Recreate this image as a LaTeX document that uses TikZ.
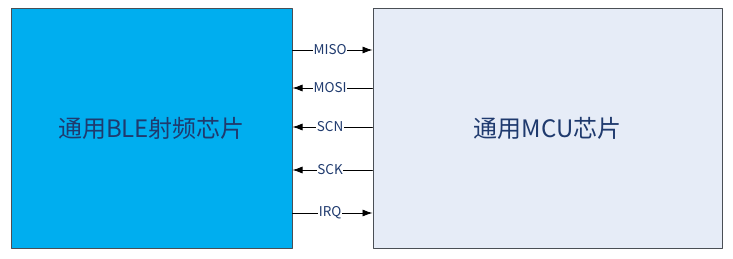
\documentclass[tikz,border=0pt]{standalone}
\usepackage{fontspec}
\setmainfont{Noto Sans CJK SC}
\usepackage{xcolor}
\usetikzlibrary{arrows.meta, calc}
\definecolor{blefill}{HTML}{00AEEF}
\definecolor{mcufill}{HTML}{E6ECF7}
\definecolor{chipedge}{HTML}{4A4F55}
\definecolor{chiptext}{HTML}{1F3A6E}

\tikzset{
	chip/.style={draw=chipedge, line width=1pt, minimum height=240pt, text=chiptext, font=\fontsize{24}{28}\selectfont},
	sig/.style={fill=white, inner sep=0.5pt, text=chiptext, font=\fontsize{13.5}{15}\selectfont},
	wire/.style={line width=0.8pt, -{Latex[length=10pt,width=7pt]}}
}

\begin{document}
\begin{tikzpicture}[x=1pt, y=1pt, line cap=round, line join=round]
				\useasboundingbox (0,0) rectangle (733,258);
				\node[chip, fill=blefill, minimum width=281pt] (ble) at (151.5,130) {通用BLE射频芯片};
				\node[chip, fill=mcufill, minimum width=349pt] (mcu) at (547.5,130) {通用MCU芯片};
				\foreach \y/\lab in {208/MISO, 45/IRQ}
					\draw[wire] (ble.east |- 0,\y) -- (mcu.west |- 0,\y) node[sig, pos=0.47]{\lab};
				\foreach \y/\lab in {170/MOSI, 131/SCN, 88/SCK}
					\draw[wire] (mcu.west |- 0,\y) -- (ble.east |- 0,\y) node[sig, pos=0.53]{\lab};
			\end{tikzpicture}
\end{document}
